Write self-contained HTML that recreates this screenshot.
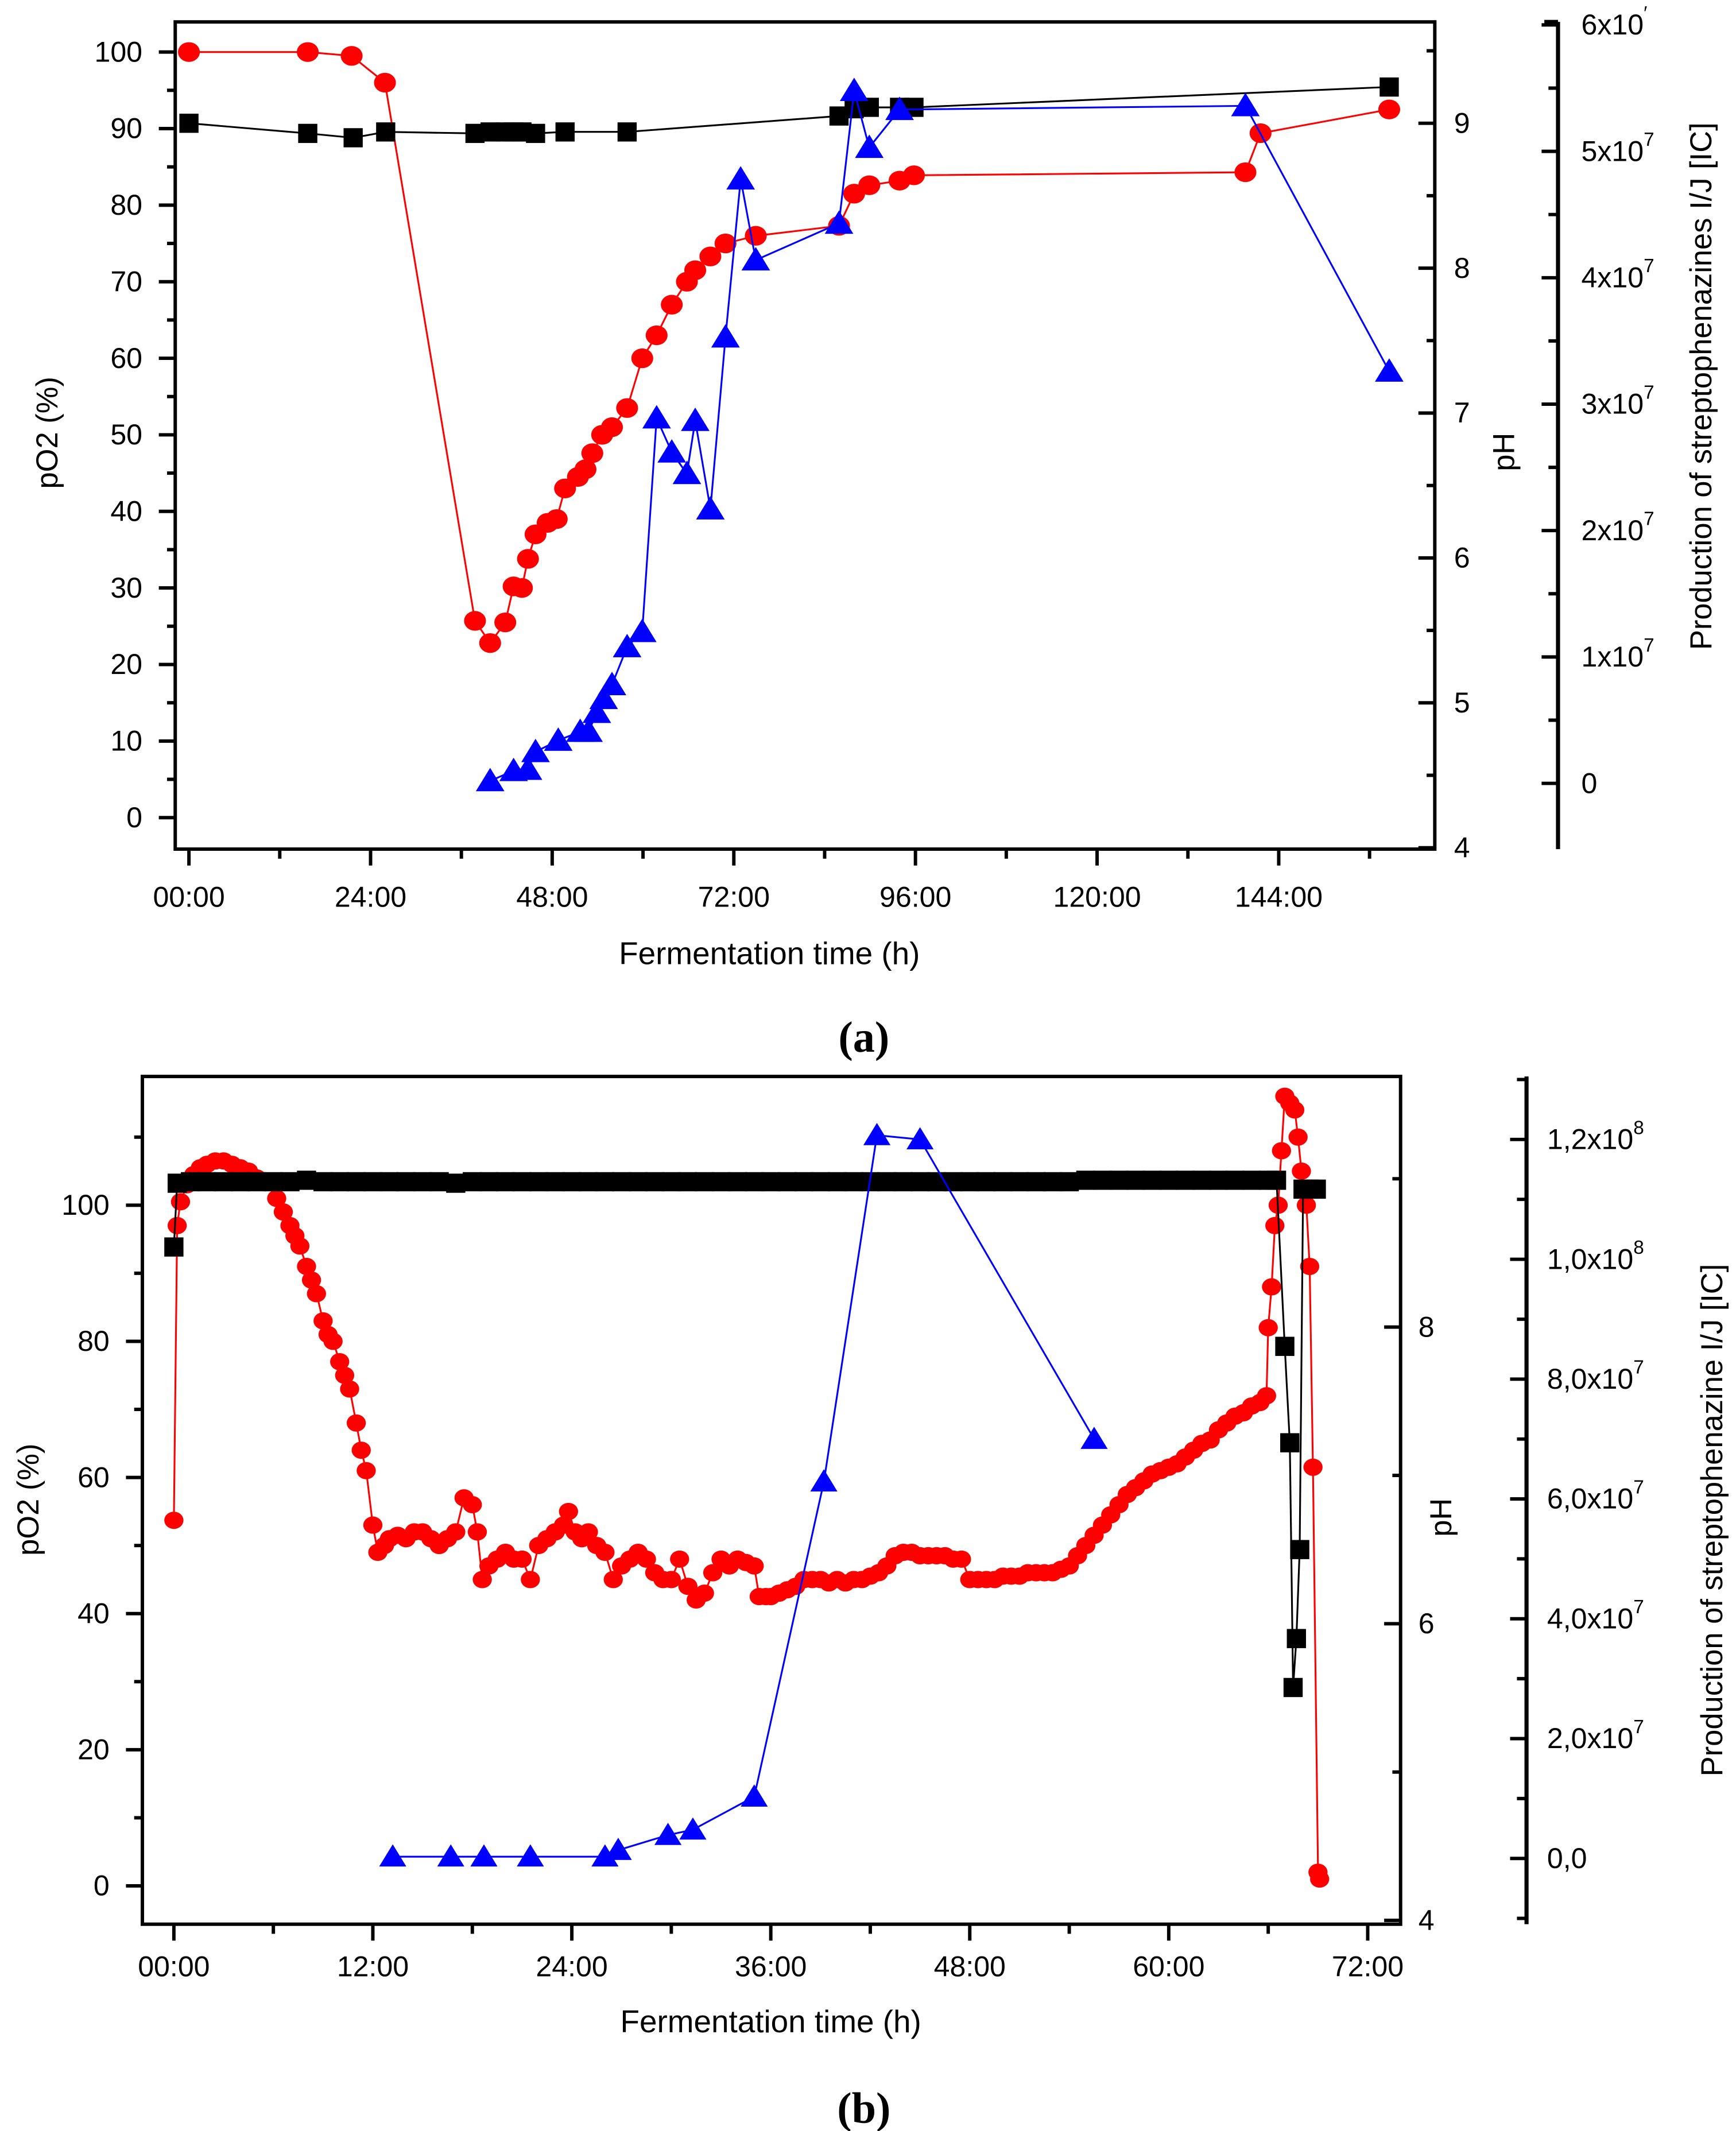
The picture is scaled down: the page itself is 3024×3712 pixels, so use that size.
<!DOCTYPE html>
<html><head><meta charset="utf-8"><style>
html,body{margin:0;padding:0;background:#fff;}
svg{display:block;}
text{font-family:"Liberation Sans",sans-serif;fill:#000;}
text.serif{font-family:"Liberation Serif",serif;}
</style></head>
<body>
<svg id="fig" width="3024" height="3712" viewBox="0 0 1268 1556" preserveAspectRatio="none" xmlns="http://www.w3.org/2000/svg"></svg>
<script>
// ---- Panel (a) data ----
const aRedT=[0,15.7,21.5,25.9,37.8,39.8,41.8,42.9,44,44.8,45.8,47.4,48.6,49.7,51.4,52.4,53.3,54.6,55.9,57.9,59.9,61.8,63.8,65.8,66.9,68.9,70.9,74.9,85.9,87.9,89.9,93.9,95.8,139.6,141.6,158.6];
const aRedV=[100,100,99.5,96,25.7,22.8,25.5,30.2,30,33.8,37,38.5,39,43,44.5,45.5,47.6,50,51,53.5,60,63,67,70,71.5,73.3,75,76,77.3,81.5,82.6,83.2,83.9,84.3,89.4,92.5];
const aBlkT=[0,15.7,21.7,26,37.8,39.8,41.8,42.9,44,45.8,49.7,57.9,85.9,87.9,89.9,93.9,95.8,158.6];
const aBlkV=[9.0,8.93,8.9,8.94,8.93,8.94,8.94,8.94,8.94,8.93,8.94,8.94,9.05,9.1,9.11,9.11,9.11,9.25];
const aBluT=[39.8,42.9,44.8,45.8,48.8,51.7,52.8,53.9,54.8,55.9,57.9,59.9,61.8,63.8,65.8,66.9,68.9,70.9,72.9,74.9,85.9,87.9,89.9,93.9,139.6,158.6];
const aBluV=[0.02,0.1,0.11,0.25,0.34,0.41,0.41,0.56,0.67,0.78,1.08,1.2,2.89,2.62,2.45,2.87,2.17,3.53,4.78,4.14,4.43,5.48,5.03,5.33,5.36,3.26];
const aXTicks=["00:00","24:00","48:00","72:00","96:00","120:00","144:00"];
// ---- Panel (b) data ----
const bRedT=[0,0.2,0.4,0.8,1.2,1.6,2,2.5,3,3.5,4,4.5,5,5.5,6.2,6.6,7,7.3,7.6,8,8.3,8.6,9,9.3,9.6,10,10.3,10.6,11,11.3,11.6,12,12.3,12.7,13,13.5,14,14.5,15,15.5,16,16.5,17,17.5,18,18.3,18.6,19,19.5,20,20.5,21,21.5,22,22.5,23,23.5,23.8,24.2,24.6,25,25.5,26,26.5,27,27.5,28,28.5,29,29.5,30,30.5,31,31.5,32,32.5,33,33.5,34,34.5,35,35.3,35.7,36,36.5,37,37.5,38,38.5,39,39.5,40,40.5,41,41.5,42,42.5,43,43.5,44,44.5,45,45.5,46,46.5,47,47.5,48,48.5,49,49.5,50,50.5,51,51.5,52,52.5,53,53.5,54,54.5,55,55.5,56,56.5,57,57.5,58,58.5,59,59.5,60,60.5,61,61.5,62,62.5,63,63.5,64,64.5,65,65.5,65.9,66,66.2,66.4,66.6,66.8,67,67.3,67.6,67.8,68,68.3,68.5,68.7,69,69.1];
const bRedV=[53.7,97,100.5,103,104.5,105.5,106,106.5,106.5,106,105.5,105,104,103.5,101,99,97,95.5,94,91,89,87,83,81,80,77,75,73,68,64,61,53,49,50,51,51.5,51,52,52,51,50,51,52,57,56,52,45,47,48,49,48,48,45,50,51,52,53,55,52,51,52,50,49,45,47,48,49,48,46,45,45,48,44,42,43,46,48,47,48,47.5,47,42.5,42.5,42.5,43,43.5,44,45,45,45,44.5,45,44.5,45,45,45.5,46,47,48.5,49,49,48.5,48.5,48.5,48.5,48,48,45,45,45,45,45.5,45.5,45.5,46,46,46,46,46.5,47,48.5,50,51.5,53,54.5,56,57.5,58.5,59.5,60.5,61,61.5,62,63,64,65,65.5,67,68,69,69.5,70.5,71,72,82,88,97,100,108,116,115,114,110,105,100,91,61.5,2,1];
const bBlkT=[0,0.2,1,2,3,4,5,6,7,8,9,10,11,12,13,14,15,16,17,18,19,20,21,22,23,24,25,26,27,28,29,30,31,32,33,34,35,36,37,38,39,40,41,42,43,44,45,46,47,48,49,50,51,52,53,54,55,56,57,58,59,60,61,62,63,64,65,66,66.5,67,67.3,67.5,67.7,67.9,68.1,68.5,68.9];
const bBlkV=[8.54,8.97,8.98,8.98,8.98,8.98,8.98,8.98,8.98,8.99,8.98,8.98,8.98,8.98,8.98,8.98,8.98,8.98,8.97,8.98,8.98,8.98,8.98,8.98,8.98,8.98,8.98,8.98,8.98,8.98,8.98,8.98,8.98,8.98,8.98,8.98,8.98,8.98,8.98,8.98,8.98,8.98,8.98,8.98,8.98,8.98,8.98,8.98,8.98,8.98,8.98,8.98,8.98,8.98,8.98,8.98,8.99,8.99,8.99,8.99,8.99,8.99,8.99,8.99,8.99,8.99,8.99,8.99,8.99,7.87,7.22,5.57,5.9,6.5,8.93,8.93,8.93];
const bBluT=[13.2,16.7,18.7,21.5,26,26.8,29.8,31.3,35,39.2,42.4,45,55.5];
const bBluV=[0.03,0.03,0.03,0.03,0.03,0.14,0.39,0.48,1.03,6.29,12.07,12.0,7.0];
const bXTicks=["00:00","12:00","24:00","36:00","48:00","60:00","72:00"];

const NS="http://www.w3.org/2000/svg";
const svg=document.getElementById('fig');
function mk(tag,attrs,parent,txt){const e=document.createElementNS(NS,tag);for(const k in attrs)e.setAttribute(k,attrs[k]);if(txt!==undefined)e.textContent=txt;(parent||svg).appendChild(e);return e;}
function grp(name){const g=mk('g',{});return g;}

function series(g,T,V,fx,fy,color,shape,sz,lw){
  const pts=T.map((t,i)=>fx(t).toFixed(1)+','+fy(V[i]).toFixed(1)).join(' ');
  const pl=mk('polyline',{points:pts,fill:'none',stroke:color,'stroke-width':lw},g);
  
  
  T.forEach((t,i)=>{const x=fx(t),y=fy(V[i]);let m;
    if(shape==='c')m=mk('ellipse',{cx:x,cy:y,rx:sz,ry:sz*0.9,fill:color},g);
    else if(shape==='s')m=mk('rect',{x:x-sz,y:y-sz,width:2*sz,height:2*sz,fill:color},g);
    else m=mk('polygon',{points:`${x},${y-sz} ${x-sz*1.1},${y+sz*0.8} ${x+sz*1.1},${y+sz*0.8}`,fill:color},g);
    
    
  });
}
function line(g,x1,y1,x2,y2,w){return mk('line',{x1,y1,x2,y2,stroke:'#000','stroke-width':w||2.5},g);}

// ---------- Panel A ----------
(function(){
 const L=128,T=16,R=1048,B=620;
 const fx=h=>138+h*(536-138)/72, fy=v=>597-v*(597-38)/100;
 const fph=p=>90+(9-p)*105.8, fpr=v=>572-v*92.3;
 const g=grp('panel-a');
 mk('rect',{x:L,y:T,width:R-L,height:B-T,fill:'none',stroke:'#000','stroke-width':2.5},g);
 for(let v=0;v<=100;v+=5){const y=fy(v);line(g,v%10?122:116,y,L,y);if(v%10==0)mk('text',{x:104,y:y+7,'text-anchor':'end','font-size':21},g,String(v));}
 aXTicks.forEach((s,i)=>{const x=fx(i*24);line(g,x,B,x,B+12);mk('text',{x:x,y:662,'text-anchor':'middle','font-size':21},g,s);line(g,fx(i*24+12),B,fx(i*24+12),B+7);});
 for(let p=4;p<=9.5;p+=0.5){const y=fph(p);if(y<T)continue;line(g,p%1?1042:1036,y,R,y);if(p%1==0)mk('text',{x:1062,y:y+7,'font-size':21},g,String(p));}
 line(g,1138,16,1138,620,3);line(g,1128,16,1138,16,3);
 for(let k=0;k<=6;k+=0.5){const y=fpr(k);line(g,k%1?1131:1126,y,1138,y);}
 const labs=['0','1x10','2x10','3x10','4x10','5x10','6x10'];
 labs.forEach((s,k)=>{const y=fpr(k);const t=mk('text',{x:1155,y:y+7,'font-size':21},g,s);if(k>0)mk('tspan',{dy:-11,'font-size':14},t,k==6?'′':'7');});
 const yl=mk('text',{x:42,y:316,'text-anchor':'middle','font-size':22,transform:'rotate(-90 42 316)'},g,'pO2 (%)');
 mk('text',{x:1106,y:330,'text-anchor':'middle','font-size':22,transform:'rotate(-90 1106 330)'},g,'pH');
 mk('text',{x:1250,y:282,'text-anchor':'middle','font-size':22,transform:'rotate(-90 1250 282)'},g,'Production of streptophenazines I/J [IC]');
 mk('text',{x:562,y:704,'text-anchor':'middle','font-size':23},g,'Fermentation time (h)');
 mk('text',{x:631,y:768,'text-anchor':'middle','font-size':32,'font-weight':'bold','class':'serif'},g,'(a)');
 series(g,aRedT,aRedV,fx,fy,'#f00','c',8,1.3);
 series(g,aBlkT,aBlkV,fx,fph,'#000','s',7,1.3);
 series(g,aBluT,aBluV,fx,fpr,'#00f','t',9.5,1.3);
})();

// ---------- Panel B ----------
(function(){
 const L=104,T=786,R=1023,B=1405;
 const fx=h=>127+h*(999-127)/72, fy=v=>1377-v*(1377-880)/100;
 const fph=p=>969+(8-p)*108.3, fpr=v=>1357-v*43.75;
 const g=grp('panel-b');
 mk('rect',{x:L,y:T,width:R-L,height:B-T,fill:'none',stroke:'#000','stroke-width':2.5},g);
 for(let v=0;v<=110;v+=10){const y=fy(v);line(g,v%20?98:92,y,L,y);if(v%20==0)mk('text',{x:80,y:y+7,'text-anchor':'end','font-size':21},g,String(v));}
 bXTicks.forEach((s,i)=>{const x=fx(i*12);line(g,x,B,x,B+12);mk('text',{x:x,y:1443,'text-anchor':'middle','font-size':21},g,s);if(i<6)line(g,fx(i*12+6),B,fx(i*12+6),B+7);});
 for(let p=4;p<=9.5;p+=1){const y=fph(p);if(y<T)continue;line(g,p%2?1017:1011,y,R,y);if(p%2==0)mk('text',{x:1036,y:y+7,'font-size':21},g,String(p));}
 line(g,1115,786,1115,1405,3);
 for(let k=-1;k<=13;k+=1){const y=fpr(k);if(y<786||y>1405)continue;line(g,k%2?1108:1103,y,1115,y);}
 const labs=['0,0','2,0x10','4,0x10','6,0x10','8,0x10','1,0x10','1,2x10'];
 labs.forEach((s,i)=>{const y=fpr(i*2);const t=mk('text',{x:1130,y:y+7,'font-size':21},g,s);if(i>0)mk('tspan',{dy:-11,'font-size':14},t,i>=5?'8':'7');});
 mk('text',{x:28,y:1095,'text-anchor':'middle','font-size':22,transform:'rotate(-90 28 1095)'},g,'pO2 (%)');
 mk('text',{x:1060,y:1108,'text-anchor':'middle','font-size':22,transform:'rotate(-90 1060 1108)'},g,'pH');
 mk('text',{x:1258,y:1110,'text-anchor':'middle','font-size':22,transform:'rotate(-90 1258 1110)'},g,'Production of streptophenazine I/J [IC]');
 mk('text',{x:563,y:1484,'text-anchor':'middle','font-size':23},g,'Fermentation time (h)');
 mk('text',{x:631,y:1550,'text-anchor':'middle','font-size':32,'font-weight':'bold','class':'serif'},g,'(b)');
 series(g,bRedT,bRedV,fx,fy,'#f00','c',7,1.3);
 series(g,bBlkT,bBlkV,fx,fph,'#000','s',7,1.3);
 series(g,bBluT,bBluV,fx,fpr,'#00f','t',9,1.3);
})();
</script>
</body></html>
